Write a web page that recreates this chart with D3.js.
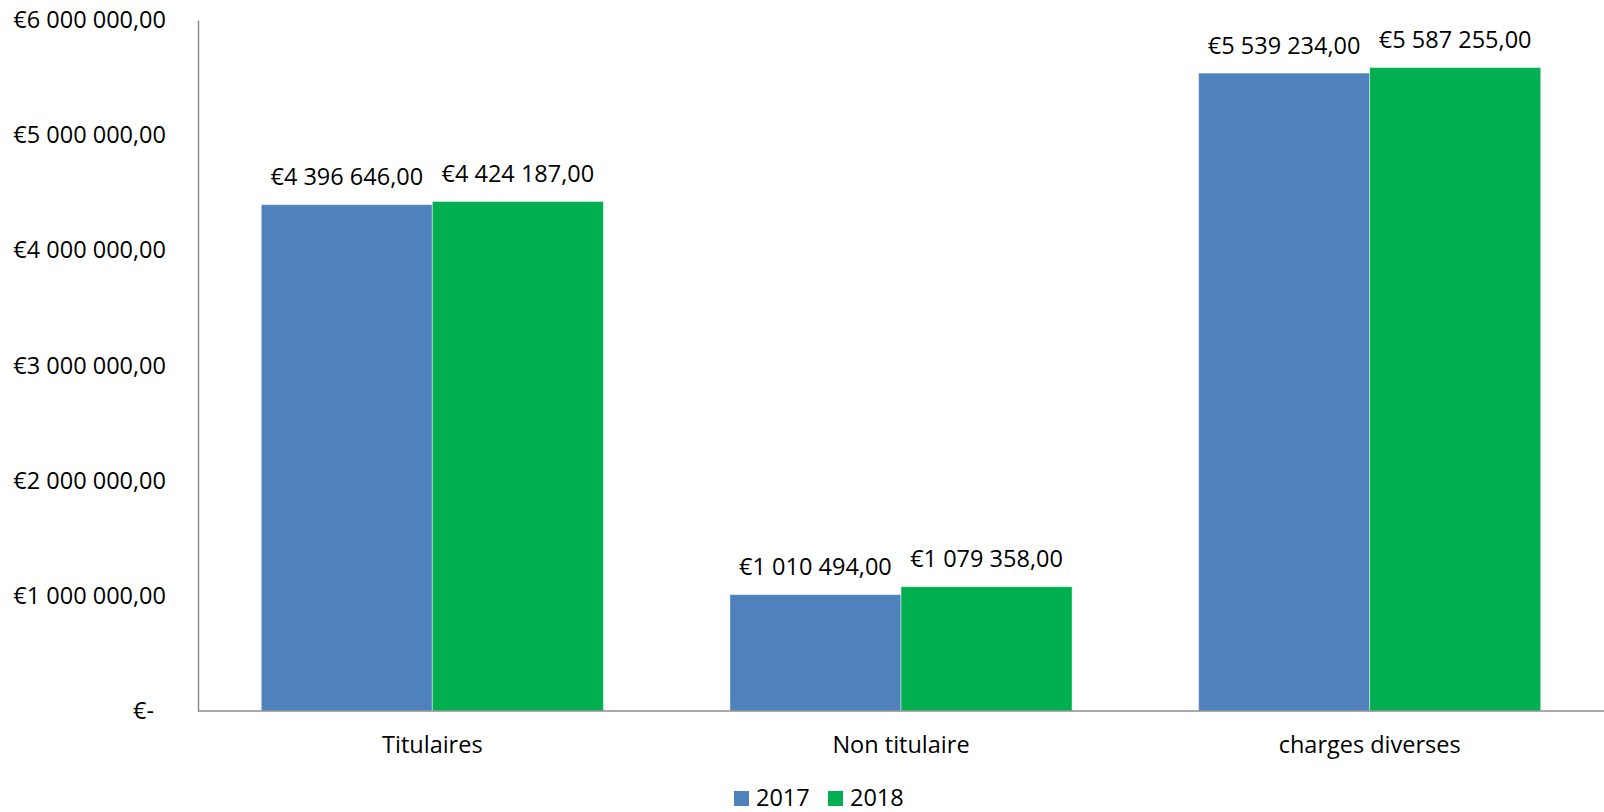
<!DOCTYPE html>
<html>
<head>
<meta charset="utf-8">
<script src="https://cdn.jsdelivr.net/npm/d3@7"></script>
<style>
  body { margin: 0; background: #fff; }
  svg { display: block; font-family: "Open Sans", sans-serif; }
</style>
</head>
<body>
<svg id="chart"></svg>
<script>
const categories = ["Titulaires", "Non titulaire", "charges diverses"];
const years = ["2017", "2018"];
const values2017 = [4396646, 1010494, 5539234];
const values2018 = [4424187, 1079358, 5587255];
const yTicks = [0, 1000000, 2000000, 3000000, 4000000, 5000000, 6000000];
const colors = ["#4F81BD", "#00B050"];

const width = 1604;
const height = 812;
const margin = { top: 20, right: 0, bottom: 101, left: 198 };
const fontSize = 23.5;

const svg = d3.select("#chart").attr("width", width).attr("height", height);

const locale = d3.formatLocale({ decimal: ",", thousands: " ", grouping: [3], currency: ["€", ""] });
const fmt = locale.format("$,.2f");
const label = v => v === 0 ? "€-" : fmt(v);

const rows = categories.map((c, i) => ({ cat: c, vals: [values2017[i], values2018[i]] }));

const x = d3.scaleBand()
  .domain(categories)
  .range([margin.left, width - margin.right])
  .paddingInner(0.27)
  .paddingOuter(0.135);

const xSub = d3.scaleBand()
  .domain(years)
  .range([0, x.bandwidth()]);

const y = d3.scaleLinear()
  .domain([0, 6000000])
  .range([height - margin.bottom, margin.top]);

// y axis
const yAxis = svg.append("g")
  .attr("transform", `translate(${margin.left},0)`)
  .call(d3.axisLeft(y).tickValues(yTicks).tickSize(0).tickPadding(32).tickFormat(label));
yAxis.select(".domain").attr("stroke", "#8c8c8c").attr("stroke-width", 1.5);
yAxis.selectAll("text")
  .style("font-size", fontSize + "px")
  .style("font-family", "'Open Sans', sans-serif")
  .attr("fill", "#000")
  .attr("dx", d => d === 0 ? -12 : 0);

// bars
const groups = svg.append("g").selectAll("g")
  .data(rows)
  .join("g")
  .attr("transform", d => `translate(${x(d.cat)},0)`);

groups.selectAll("rect")
  .data(d => d.vals.map((v, i) => ({ year: years[i], v, i })))
  .join("rect")
  .attr("x", d => xSub(d.year))
  .attr("width", xSub.bandwidth())
  .attr("y", d => y(d.v))
  .attr("height", d => y(0) - y(d.v))
  .attr("fill", d => colors[d.i])
  .attr("stroke", "#ffffff")
  .attr("stroke-opacity", 0.45)
  .attr("stroke-width", 1);

groups.selectAll("text")
  .data(d => d.vals.map((v, i) => ({ year: years[i], v, i })))
  .join("text")
  .attr("x", d => xSub(d.year) + xSub.bandwidth() / 2)
  .attr("y", d => y(d.v) - 19.5)
  .attr("text-anchor", "middle")
  .style("font-size", fontSize + "px")
  .text(d => fmt(d.v));

// x axis
const xAxis = svg.append("g")
  .attr("transform", `translate(0,${y(0)})`)
  .call(d3.axisBottom(x).tickSize(0).tickPadding(0));
xAxis.select(".domain").attr("stroke", "#8c8c8c").attr("stroke-width", 1.5)
  .attr("d", `M${margin.left},0H${width - margin.right}`);
xAxis.selectAll("text")
  .attr("dy", null)
  .attr("y", 42)
  .style("font-size", fontSize + "px")
  .style("font-family", "'Open Sans', sans-serif")
  .attr("fill", "#000");

// legend
const legend = svg.append("g").attr("transform", "translate(734,791)");
const item = legend.selectAll("g")
  .data(years)
  .join("g")
  .attr("transform", (d, i) => `translate(${i * 94},0)`);
item.append("rect")
  .attr("width", 15)
  .attr("height", 15)
  .attr("fill", (d, i) => colors[i]);
item.append("text")
  .attr("x", 22)
  .attr("y", 14.5)
  .style("font-size", fontSize + "px")
  .text(d => d);
</script>
</body>
</html>
